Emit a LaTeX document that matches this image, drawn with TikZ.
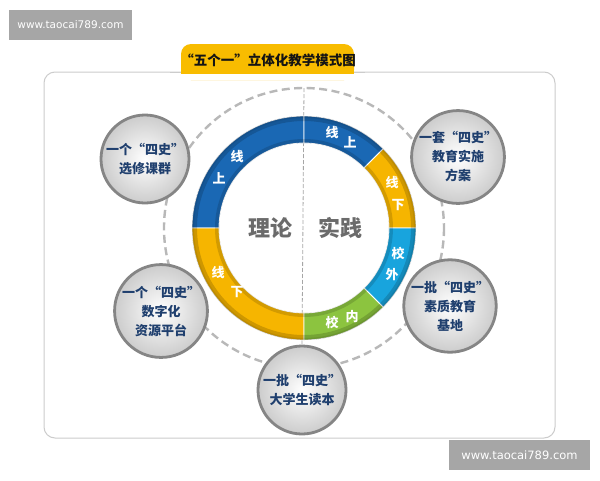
\documentclass[tikz,border=0pt]{standalone}
\usepackage{fontspec}
\newfontfamily\cjk{Noto Sans CJK SC}
\newfontfamily\wm{DejaVu Sans}
\definecolor{ringblue}{HTML}{1A68B4}
\definecolor{ringyellow}{HTML}{F6B500}
\definecolor{ringcyan}{HTML}{18A4DD}
\definecolor{ringgreen}{HTML}{8CC43F}
\definecolor{bubtext}{HTML}{1F3F6E}
\definecolor{tabyellow}{HTML}{F8BC00}
\definecolor{wmgray}{HTML}{A6A6A6}
\begin{document}
\begin{tikzpicture}[x=1pt,y=-1pt,
  bubble/.style={circle, minimum size=88pt, inner sep=0pt, draw=black!48, line width=2.8pt,
    inner color=white, outer color=black!20, font=\cjk\bfseries\fontsize{13}{19}\selectfont,
    text=bubtext, align=center},
  seglabel/.style={text=white, font=\cjk\bfseries\fontsize{13}{13}\selectfont, inner sep=0pt},
  bigword/.style={text=black!58, font=\cjk\bfseries\fontsize{22}{22}\selectfont},
  dashring/.style={draw=black!28, line width=2.4pt, dash pattern=on 8pt off 4.5pt},
  wmbox/.style={fill=wmgray, text=white, inner sep=0pt, font=\wm}]
\useasboundingbox (0,0) rectangle (600,480);
\fill[white] (0,0) rectangle (600,480);
% outer panel
\draw[draw=black!20, line width=1pt, rounded corners=11pt] (44,72) rectangle (555,438);
% dashed circle
\draw[dashring] (304,228) circle (140);
% bottom bubble and vertical divider
\coordinate (vtop) at (304,88);
\node[bubble] (b3) at (302,390) {一批“四史”\\大学生读本};
\draw[draw=black!35, line width=0.8pt, dash pattern=on 4pt off 2pt] (vtop) -- (b3.north);
% ring
\begin{scope}[shift={(304,228)}, y=1pt]
\foreach \a/\b/\c in {90/180/ringblue, 180/270/ringyellow, 45/90/ringblue, 0/45/ringyellow, -45/0/ringcyan, -90/-45/ringgreen}
  \fill[\c, draw=white, line width=0.8pt] (\a:112) arc[start angle=\a, end angle=\b, radius=112]
    -- (\b:85) arc[start angle=\b, end angle=\a, radius=85] -- cycle;
\draw[black, opacity=0.16, line width=5pt] (0,0) circle (109.5);
\draw[black, opacity=0.08, line width=2pt] (0,0) circle (111);
\draw[black, opacity=0.14, line width=4pt] (0,0) circle (87);
\end{scope}
% ring labels
\node[seglabel] (lb1) at (237,157) {线};
\node[seglabel] (lb2) at (219,178) {上};
\node[seglabel] (ly1) at (218,273) {线};
\node[seglabel] (ly2) at (237,292) {下};
\node[seglabel] (rb1) at (332,133) {线};
\node[seglabel] (rb2) at (350,142) {上};
\node[seglabel] (ry1) at (392,183) {线};
\node[seglabel] (ry2) at (398,205) {下};
\node[seglabel] (rc1) at (398,253) {校};
\node[seglabel] (rc2) at (392,275) {外};
\node[seglabel] (rg1) at (332,322) {校};
\node[seglabel] (rg2) at (352,317) {内};
\node[bigword] (theory) at (270,228) {理论};
\node[bigword] (practice) at (340,228) {实践};
% other bubbles
\node[bubble] (b1) at (145,159) {一个“四史”\\选修课群};
\node[bubble] (b2) at (161,311) {一个“四史”\\数字化\\资源平台};
\node[bubble] (b4) at (458,157) {一套“四史”\\教育实施\\方案};
\node[bubble] (b5) at (450,306) {一批“四史”\\素质教育\\基地};
% title tab
\fill[tabyellow, rounded corners=10pt] (181,80) -- (181,44) -- (354,44) -- (354,80) -- cycle;
\fill[tabyellow] (181,60) rectangle (354,73.5);
\fill[white] (170,73.5) rectangle (365,80);
\draw[draw=black!20, line width=1pt] (170,72) -- (181,72);
\draw[draw=black!20, line width=1pt] (354,72) -- (365,72);
\node[font=\cjk\bfseries\fontsize{13.5}{13.5}\selectfont, text=black!92] (title) at (268,60) {“五个一”立体化教学模式图};
% watermarks
\node[wmbox, minimum width=123pt, minimum height=30pt, font=\wm\fontsize{10.5}{10.5}\selectfont] (wm1) at (70.5,25) {www.taocai789.com};
\node[wmbox, minimum width=141pt, minimum height=30pt, font=\wm\fontsize{11.5}{11.5}\selectfont] (wm2) at (519.5,455) {www.taocai789.com};
\end{tikzpicture}
\end{document}
